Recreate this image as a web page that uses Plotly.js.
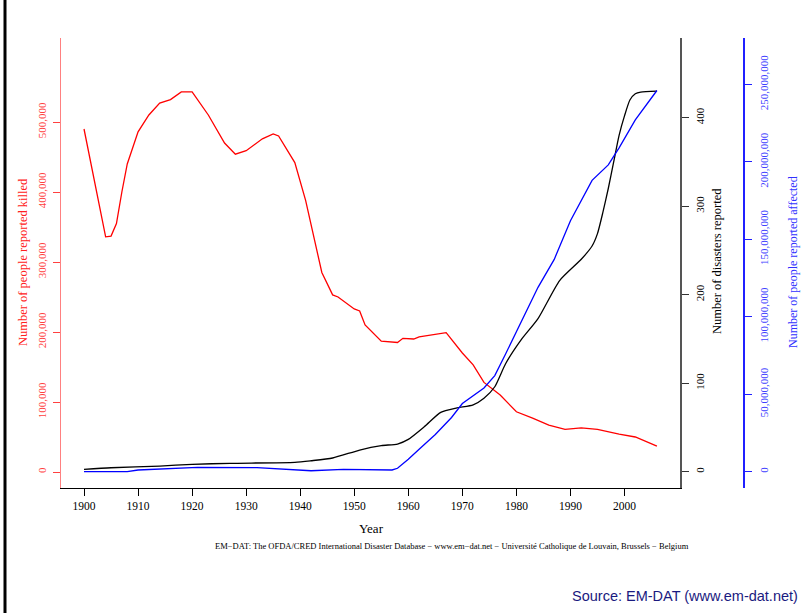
<!DOCTYPE html>
<html>
<head>
<meta charset="utf-8">
<script src="https://cdn.plot.ly/plotly-3.0.1.min.js"></script>
<style>
  html, body { margin: 0; padding: 0; background: #ffffff; }
  #chart { width: 802px; height: 613px; }
</style>
</head>
<body>
<div id="chart"></div>
<script>
// ---- Data ----
const killedYears = [1900,1904,1905,1906,1907,1908,1910,1912,1914,1916,1918,1920,1923,1926,1928,1930,1933,1935,1936,1939,1941,1944,1946,1947,1950,1951,1952,1955,1958,1959,1961,1962,1967,1970,1972,1974,1977,1980,1983,1986,1989,1992,1995,1999,2002,2006];
const killedValues = [490000,336000,337000,355000,400000,440000,486000,510000,527000,532000,543000,543000,510000,470000,454000,459000,476000,483000,480000,442000,388000,285000,253000,250000,233000,230000,210000,187000,185000,191000,190000,193000,199000,170000,153000,128000,110000,86000,77000,67000,61000,63000,61000,54000,50000,37000];

const disasterYears = [1900,1905,1914,1920,1927,1939,1942,1946,1951,1955,1958,1960,1963,1966,1969,1972,1974,1976,1978,1981,1984,1988,1992,1994,1995,1996,1997,1998,1999,2000,2001,2002,2003,2006];
const disasterValues = [2.7,4.5,6.4,8.3,9.5,10.6,12.4,15.5,24.5,29.5,31.3,36.5,51,67,72,75.5,83,96,122,150,173,216,240,255,269,293,320,350,380,402,420,427,429,430];

const affectedYears = [1900,1908,1910,1916,1921,1932,1939,1942,1948,1956,1957,1958,1960,1962,1965,1968,1970,1974,1976,1978,1981,1984,1987,1990,1994,1997,1999,2002,2006];
const affectedValues = [0,0,1.1e6,2.2e6,2.8e6,2.6e6,1.5e6,0.6e6,1.5e6,1.5e6,1.1e6,2.2e6,8e6,14.5e6,24e6,35e6,44e6,54e6,62e6,76e6,98e6,119e6,137e6,162e6,188e6,198e6,209e6,227e6,246e6];

const yearTicks = [1900,1910,1920,1930,1940,1950,1960,1970,1980,1990,2000];
const killedTicks = [0,100000,200000,300000,400000,500000];
const disasterTicks = [0,100,200,300,400];
const affectedTicks = [0,50000000,100000000,150000000,200000000,250000000];

// ---- Layout geometry ----
const W = 802, H = 613;
const L = 61, R = 59, T = 38, B = 125;
const pw = W - L - R, ph = H - T - B;
const px = v => (v - L) / pw;
const py = v => (H - B - v) / ph;

const serif = '"Liberation Serif", "Times New Roman", Times, serif';

const traces = [
  { x: killedYears, y: killedValues, type: 'scatter', mode: 'lines', yaxis: 'y',
    line: { color: '#ff0000', width: 1.3 }, hoverinfo: 'skip' },
  { x: disasterYears, y: disasterValues, type: 'scatter', mode: 'lines', yaxis: 'y2',
    line: { color: '#000000', width: 1.3, shape: 'spline', smoothing: 0.6 }, hoverinfo: 'skip' },
  { x: affectedYears, y: affectedValues, type: 'scatter', mode: 'lines', yaxis: 'y3',
    line: { color: '#0000ff', width: 1.3 }, hoverinfo: 'skip' }
];

const layout = {
  width: W, height: H,
  margin: { l: L, r: R, t: T, b: B, pad: 0 },
  paper_bgcolor: '#ffffff', plot_bgcolor: '#ffffff',
  showlegend: false,
  font: { family: serif, size: 11, color: '#000' },
  xaxis: {
    domain: [0, (680 - L) / pw],
    range: [1895.74, 2010.27],
    tickvals: yearTicks, ticktext: yearTicks.map(String),
    ticks: 'outside', ticklen: 7, tickcolor: '#000', tickwidth: 1,
    showline: true, linecolor: '#000', linewidth: 1,
    showgrid: false, zeroline: false,
    tickfont: { family: serif, size: 11.5, color: '#000' }
  },
  yaxis: {
    range: [-22857, 620000],
    tickvals: killedTicks, tickformat: ',d',
    ticks: 'outside', ticklen: 7, tickcolor: '#ff4040', tickwidth: 1,
    showline: true, linecolor: '#ff8080', linewidth: 1.5,
    showgrid: false, zeroline: false, tickangle: -90, ticklabelstandoff: 2,
    tickfont: { family: serif, size: 11, color: '#ff4040' }
  },
  yaxis2: {
    overlaying: 'y', side: 'right', anchor: 'x',
    range: [-18.4, 490.05],
    tickvals: disasterTicks,
    ticks: 'outside', ticklen: 7, tickcolor: '#333', tickwidth: 1,
    showline: true, linecolor: '#555', linewidth: 1.5,
    showgrid: false, zeroline: false, tickangle: -90, ticklabelstandoff: 2,
    tickfont: { family: serif, size: 11, color: '#000' }
  },
  yaxis3: {
    overlaying: 'y', side: 'right', anchor: 'free', position: 1,
    range: [-10.52e6, 279.88e6],
    tickvals: affectedTicks, tickformat: ',d',
    ticks: 'outside', ticklen: 7, tickcolor: '#2020ff', tickwidth: 1,
    showline: true, linecolor: '#2020ff', linewidth: 1.5,
    showgrid: false, zeroline: false, tickangle: -90, ticklabelstandoff: 3,
    tickfont: { family: serif, size: 11, color: '#4040ff' }
  },
  shapes: [
    { type: 'line', xref: 'paper', yref: 'paper',
      x0: px(5), x1: px(5), y0: py(0), y1: py(H),
      line: { color: '#000', width: 3 } }
  ],
  annotations: [
    { text: 'Number of people reported killed', xref: 'paper', yref: 'paper',
      x: px(23), y: py(262), xanchor: 'center', yanchor: 'middle', textangle: -90,
      showarrow: false, font: { family: serif, size: 12.5, color: '#ff2020' } },
    { text: 'Number of disasters reported', xref: 'paper', yref: 'paper',
      x: px(717), y: py(261), xanchor: 'center', yanchor: 'middle', textangle: -90,
      showarrow: false, font: { family: serif, size: 12.5, color: '#000' } },
    { text: 'Number of people reported affected', xref: 'paper', yref: 'paper',
      x: px(793), y: py(262), xanchor: 'center', yanchor: 'middle', textangle: -90,
      showarrow: false, font: { family: serif, size: 12, color: '#3030ff' } },
    { text: 'Year', xref: 'paper', yref: 'paper',
      x: px(371), y: py(528), xanchor: 'center', yanchor: 'middle',
      showarrow: false, font: { family: serif, size: 13, color: '#000' } },
    { text: 'EM\u2212DAT: The OFDA/CRED International Disaster Database \u2212 www.em\u2212dat.net \u2212 Universit\u00e9 Catholique de Louvain, Brussels \u2212 Belgium',
      xref: 'paper', yref: 'paper',
      x: px(452), y: py(546), xanchor: 'center', yanchor: 'middle',
      showarrow: false, font: { family: serif, size: 8.5, color: '#000' } },
    { text: 'Source: EM-DAT (www.em-dat.net)', xref: 'paper', yref: 'paper',
      x: px(800), y: py(596), xanchor: 'right', yanchor: 'middle',
      showarrow: false, font: { family: '"Liberation Sans", Arial, sans-serif', size: 14.5, color: '#1a1a80' } }
  ]
};

Plotly.newPlot('chart', traces, layout, { staticPlot: true, displayModeBar: false });
</script>
</body>
</html>
